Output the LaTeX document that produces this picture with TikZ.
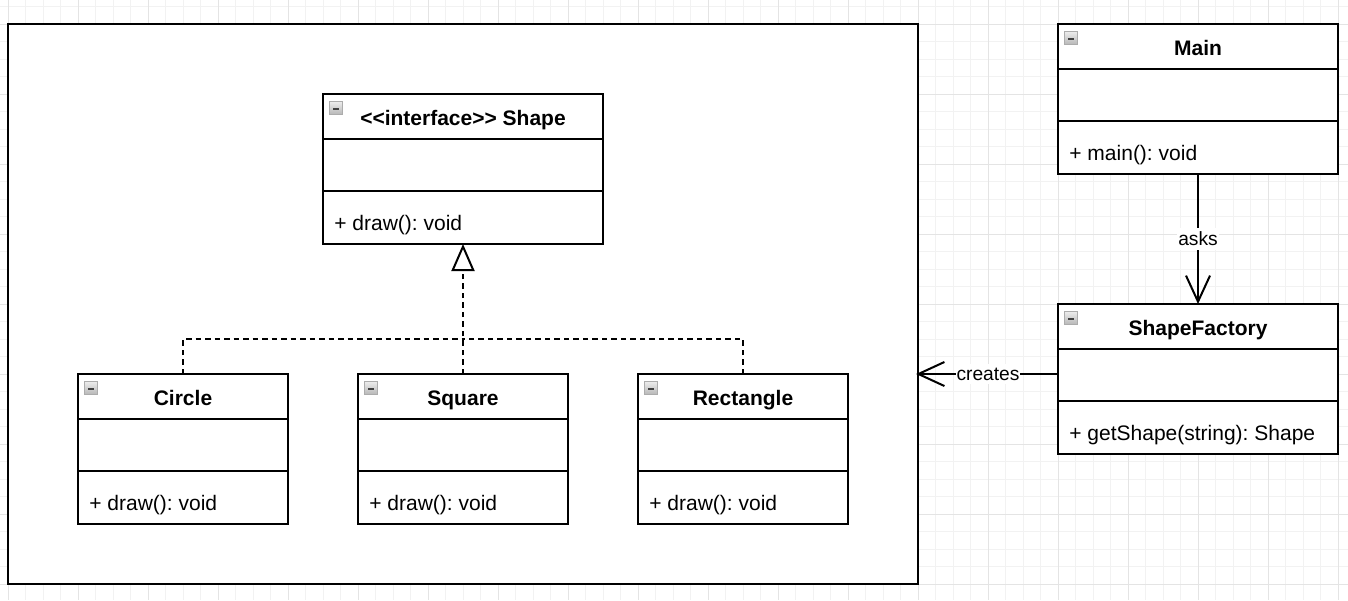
\documentclass[tikz,border=0pt]{standalone}
\usepackage{fontspec}
\setmainfont{Liberation Sans}[Ligatures=TeXOff]
\usetikzlibrary{arrows.meta}
\frenchspacing
\definecolor{gridminor}{HTML}{F2F2F2}
\definecolor{gridmajor}{HTML}{E4E4E4}
\tikzset{
  classbox/.style={draw=black, line width=1pt, fill=white, inner sep=0pt, outer sep=0pt, minimum height=75pt, anchor=north west},
  divider/.style={draw=black, line width=1pt},
  titletext/.style={font=\fontsize{10.5pt}{12pt}\selectfont\bfseries, inner sep=0pt, anchor=base},
  membertext/.style={font=\fontsize{10.5pt}{12pt}\selectfont, inner sep=0pt, anchor=base west},
  labeltext/.style={font=\fontsize{9.6pt}{11pt}\selectfont, fill=white, inner xsep=0.5pt, inner ysep=2pt},
  realize/.style={draw=black, line width=1pt, dash pattern=on 2.75pt off 2pt},
  assoc/.style={draw=black, line width=1pt, -{Straight Barb[length=13pt, width=12pt]}},
  gridminorline/.style={draw=gridminor, line width=0.5pt},
  gridmajorline/.style={draw=gridmajor, line width=0.5pt},
}
\newcommand\umlclassbox[6]{%
  \node[classbox, minimum width=#4*0.5pt] (#1) at (#2,#3) {};
  \draw[divider] ([yshift=-22.5pt]#1.north west) -- ([yshift=-22.5pt]#1.north east);
  \draw[divider] ([yshift=-48.5pt]#1.north west) -- ([yshift=-48.5pt]#1.north east);
  \node[titletext] (#1-title) at ([yshift=-15.5pt]#1.north) {#5};
  \node[membertext] (#1-member) at ([xshift=5.5pt,yshift=-68pt]#1.north west) {#6};
  \shade[top color=gray!15, bottom color=gray!55, draw=gray!65, line width=0.5pt]
    ([xshift=3.25pt,yshift=-3.75pt]#1.north west) rectangle ([xshift=9.5pt,yshift=-10pt]#1.north west);
  \fill[black!75] ([xshift=4.9pt,yshift=-6.9pt]#1.north west) rectangle ([xshift=7.85pt,yshift=-8.0pt]#1.north west);
}
\begin{document}
\begin{tikzpicture}[x=0.5pt, y=-0.5pt]
  \useasboundingbox (0,0) rectangle (1348,600);
  \fill[white] (0,0) rectangle (1348,600);
  % grid
  \foreach \k in {0,...,76} {\draw[gridminorline] ({8+17.5*\k},0) -- ({8+17.5*\k},600);}
  \foreach \k in {-1,...,32} {\draw[gridminorline] (0,{24+17.5*\k}) -- (1348,{24+17.5*\k});}
  \foreach \k in {0,4,...,76} {\draw[gridmajorline] ({8+17.5*\k},0) -- ({8+17.5*\k},600);}
  \foreach \k in {0,4,...,32} {\draw[gridmajorline] (0,{24+17.5*\k}) -- (1348,{24+17.5*\k});}

  % package frame
  \node[draw=black, line width=1pt, fill=white, inner sep=0pt, outer sep=0pt,
        minimum width=455pt, minimum height=279.75pt, anchor=north west] (pkg) at (8,24) {};

  % classes
  \umlclassbox{shape}{323}{94}{280}{<<interface>> Shape}{+ draw(): void}
  \umlclassbox{circle}{78}{374}{210}{Circle}{+ draw(): void}
  \umlclassbox{square}{358}{374}{210}{Square}{+ draw(): void}
  \umlclassbox{rect}{638}{374}{210}{Rectangle}{+ draw(): void}
  \umlclassbox{main}{1058}{24}{280}{Main}{+ main(): void}
  \umlclassbox{factory}{1058}{304}{280}{ShapeFactory}{+ getShape(string): Shape}

  % realization
  \coordinate (junc) at (463,339);
  \draw[realize] (circle.north) |- (junc);
  \draw[realize] (rect.north) |- (junc);
  \draw[realize, -{Triangle[width=11.5pt, length=13.5pt, fill=white]}] (square.north) -- (shape.south);

  % associations
  \draw[assoc] (main.south) -- node[labeltext] (asks) {asks} (factory.north);
  \coordinate (cs) at ([yshift=2.5pt]factory.west);
  \draw[assoc, shorten >=-1pt] (cs) -- node[labeltext] (creates) {creates} (cs -| pkg.east);
\end{tikzpicture}
\end{document}
